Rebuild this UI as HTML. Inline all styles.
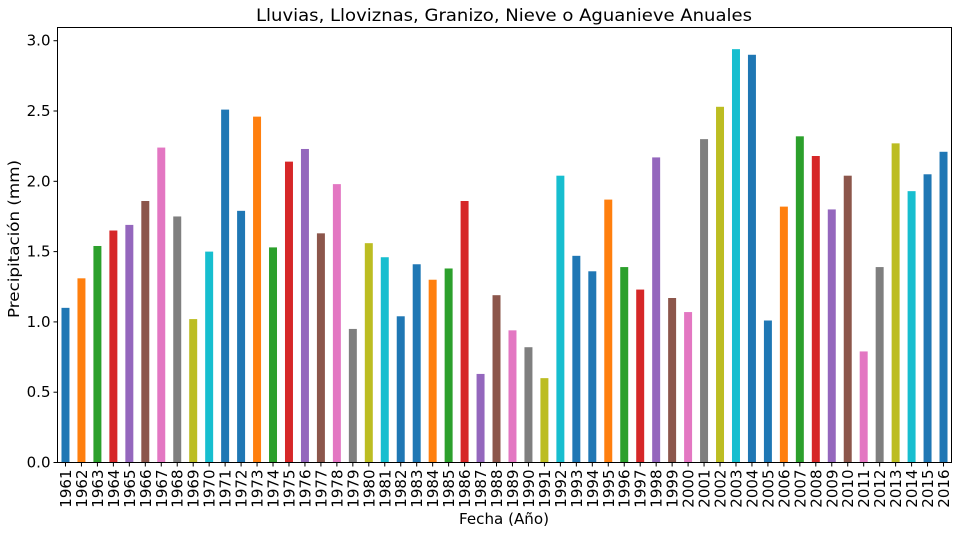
<!DOCTYPE html>
<html><head><meta charset="utf-8"><style>
body{margin:0;background:#fff;}
text{font-family:"DejaVu Sans","Liberation Sans",sans-serif;fill:#000;}
</style></head><body>
<svg id="chart" width="961" height="533" xmlns="http://www.w3.org/2000/svg">
<text x="504" y="21" font-size="17" text-anchor="middle" textLength="496" lengthAdjust="spacingAndGlyphs">Lluvias, Lloviznas, Granizo, Nieve o Aguanieve Anuales</text>
<g id="bars"></g><g id="xt"></g><g id="yt"></g>
<rect x="57.5" y="27.5" width="894" height="435" fill="none" stroke="#000" stroke-width="1"/>
<text x="504" y="524" font-size="15" text-anchor="middle" textLength="90" lengthAdjust="spacingAndGlyphs">Fecha (Año)</text>
<text transform="translate(19,239) rotate(-90)" font-size="15" text-anchor="middle" textLength="158" lengthAdjust="spacingAndGlyphs">Precipitación (mm)</text>
</svg>
<script>
const years = [];
for (let y = 1961; y <= 2016; y++) years.push(String(y));
const values = [1.10,1.31,1.54,1.65,1.69,1.86,2.24,1.75,1.02,1.50,2.51,1.79,2.46,1.53,2.14,2.23,1.63,1.98,0.95,1.56,1.46,1.04,1.41,1.30,1.38,1.86,0.63,1.19,0.94,0.82,0.60,2.04,1.47,1.36,1.87,1.39,1.23,2.17,1.17,1.07,2.30,2.53,2.94,2.90,1.01,1.82,2.32,2.18,1.80,2.04,0.79,1.39,2.27,1.93,2.05,2.21];
const yTicks = [0,0.5,1.0,1.5,2.0,2.5,3.0];
const colors = ["#1f77b4","#1f77b4","#ff7f0e","#2ca02c","#d62728","#9467bd","#8c564b","#e377c2","#7f7f7f","#bcbd22","#17becf"];
const NS="http://www.w3.org/2000/svg";
const L=57.5,R=951.5,T=27.5,B=462.5,ymax=3.094;
const step=(R-L)/years.length;
const xc=i=>L+step*(i+0.5);
const ys=v=>B-(v/ymax)*(B-T);
const bars=document.getElementById('bars'),xt=document.getElementById('xt'),yt=document.getElementById('yt');
values.forEach((v,i)=>{
  const r=document.createElementNS(NS,'rect');
  r.setAttribute('x',xc(i)-step*0.25);r.setAttribute('width',step*0.5);
  r.setAttribute('y',ys(v));r.setAttribute('height',B-ys(v));
  r.setAttribute('fill',colors[(i+1)%colors.length]);
  
  
  bars.appendChild(r);
});
years.forEach((y,i)=>{
  const l=document.createElementNS(NS,'line');
  l.setAttribute('x1',xc(i));l.setAttribute('x2',xc(i));l.setAttribute('y1',B);l.setAttribute('y2',B+4);l.setAttribute('stroke','#000');
  
  
  xt.appendChild(l);
  const t=document.createElementNS(NS,'text');
  t.setAttribute('transform','translate('+(xc(i)+5.5)+','+(B+7)+') rotate(-90)');
  t.setAttribute('font-size','15');t.setAttribute('text-anchor','end');
  t.textContent=y;
  
  
  xt.appendChild(t);
});
yTicks.forEach(v=>{
  const l=document.createElementNS(NS,'line');
  l.setAttribute('x1',L-4);l.setAttribute('x2',L);l.setAttribute('y1',ys(v));l.setAttribute('y2',ys(v));l.setAttribute('stroke','#000');
  
  
  yt.appendChild(l);
  const t=document.createElementNS(NS,'text');
  t.setAttribute('x',L-7);t.setAttribute('y',ys(v)+5);
  t.setAttribute('font-size','15');t.setAttribute('text-anchor','end');
  t.textContent=v.toFixed(1);
  
  
  yt.appendChild(t);
});
</script>
</body></html>
